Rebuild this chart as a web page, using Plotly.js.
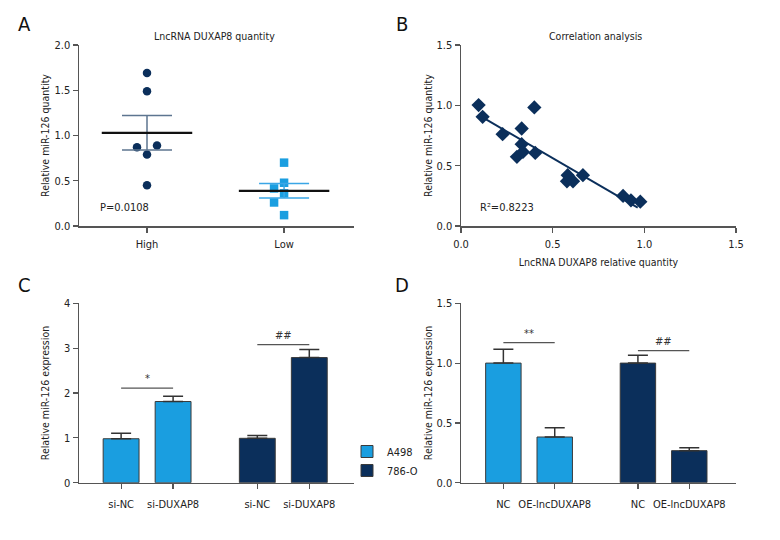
<!DOCTYPE html>
<html>
<head>
<meta charset="utf-8">
<script src="https://cdn.plot.ly/plotly-3.0.1.min.js"></script>
<style>
html,body{margin:0;padding:0;background:#fff;}
#chart{width:780px;height:540px;}
</style>
</head>
<body>
<div id="chart"></div>
<script>
// ---------- DATA ----------
// Panel A
const groupsA = ["High", "Low"];
const highValues = [1.69, 1.49, 0.79, 0.87, 0.89, 0.45];
const lowValues = [0.70, 0.36, 0.415, 0.478, 0.26, 0.12];
const pValueText = "P=0.0108";

// Panel B
const lncX = [0.096, 0.118, 0.227, 0.331, 0.400, 0.331, 0.305, 0.338, 0.405, 0.582, 0.578, 0.611, 0.665, 0.884, 0.927, 0.978];
const mirY = [1.002, 0.905, 0.761, 0.808, 0.983, 0.678, 0.573, 0.614, 0.606, 0.421, 0.371, 0.371, 0.421, 0.249, 0.213, 0.202];
const fitX = [0.118, 0.964];
const fitY = [0.900, 0.152];
const r2Text = "R²=0.8223";

// Panel C
const labelsC = ["si-NC", "si-DUXAP8"];
const cA498 = [0.98, 1.81];
const cA498Err = [1.10, 1.93];
const c786 = [0.99, 2.79];
const c786Err = [1.05, 2.97];
const sigC = ["*", "##"];
const sigCY = [2.11, 3.08];

// Panel D
const labelsD = ["NC", "OE-lncDUXAP8"];
const dA498 = [1.00, 0.382];
const dA498Err = [1.115, 0.46];
const d786 = [1.00, 0.268];
const d786Err = [1.065, 0.293];
const sigD = ["**", "##"];
const sigDY = [1.171, 1.104];

const seriesNames = ["A498", "786-O"];

// ---------- STYLE ----------
const FONT = '"DejaVu Sans Condensed","Liberation Sans Narrow",Arial,sans-serif';
const LIGHT = "#1a9ee0";
const NAVY = "#0b2f5b";
const AXC = "#555555";
const W = 780, H = 540;
const px = v => v / W;
const py = v => 1 - v / H;
const TICK = 11, TITLE = 10.5;

// ---------- HELPERS ----------
function mean(a){ return a.reduce((s,v)=>s+v,0)/a.length; }
function sem(a){
  const m = mean(a);
  const sd = Math.sqrt(a.reduce((s,v)=>s+(v-m)*(v-m),0)/(a.length-1));
  return sd/Math.sqrt(a.length);
}
// deterministic beeswarm offsets (in category units)
function swarm(vals, pxPerUnitY, pxPerUnitX, stepPx, diamPx){
  const placed = [];
  const cands = [0,-1,1,-2,2,-3,3];
  return vals.map(v=>{
    for (const c of cands){
      const xo = c*stepPx;
      const ok = placed.every(p => Math.hypot(p.x - xo, (p.y - v)*pxPerUnitY) >= diamPx);
      if (ok){ placed.push({x:xo,y:v}); return xo/pxPerUnitX; }
    }
    return 0;
  });
}

const traces = [];
const shapes = [];
const annotations = [];

// ---------- PANEL A ----------
const catPx = 137; // px per category unit
const yPxA = 181/2;
[highValues, lowValues].forEach((vals, gi)=>{
  const offs = swarm(vals, yPxA, catPx, 10, 10);
  traces.push({
    type:"scatter", mode:"markers", xaxis:"x", yaxis:"y",
    x: vals.map((v,i)=>gi+offs[i]), y: vals,
    marker: gi===0 ? {symbol:"circle", size:8.5, color:NAVY}
                   : {symbol:"square", size:8.5, color:LIGHT},
    showlegend:false, hoverinfo:"y"
  });
  const m = mean(vals), s = sem(vals);
  traces.push({
    type:"scatter", mode:"lines", xaxis:"x", yaxis:"y",
    x:[gi,gi], y:[m,m],
    error_y:{type:"data", array:[s], visible:true, color: gi===0 ? "#5d7590" : "#3aa6e6", thickness:1.5, width:25},
    line:{width:0}, showlegend:false, hoverinfo:"skip"
  });
  traces.push({
    type:"scatter", mode:"lines", xaxis:"x", yaxis:"y",
    x:[gi-0.33, gi+0.33], y:[m,m],
    line:{color:"#111", width:2.2}, showlegend:false, hoverinfo:"skip"
  });
});
annotations.push({xref:"x", yref:"y", x:-0.36, y:0.2, text:pValueText, showarrow:false, xanchor:"left", font:{family:FONT, size:TICK, color:"#222"}});

// ---------- PANEL B ----------
traces.push({
  type:"scatter", mode:"markers", xaxis:"x2", yaxis:"y2",
  x: lncX, y: mirY,
  marker:{symbol:"diamond", size:11, color:NAVY},
  showlegend:false
});
traces.push({
  type:"scatter", mode:"lines", xaxis:"x2", yaxis:"y2",
  x: fitX, y: fitY, line:{color:NAVY, width:2}, showlegend:false, hoverinfo:"skip"
});
annotations.push({xref:"x2", yref:"y2", x:0.09, y:0.15, text:r2Text, showarrow:false, xanchor:"left", font:{family:FONT, size:TICK, color:"#222"}});

// ---------- BAR PANELS ----------
const GROUP_GAP = 2.62;
function barPanel(xa, ya, lightVals, lightErr, navyVals, navyErr, sigs, sigYs, showLegend){
  const sets = [[lightVals, lightErr, LIGHT], [navyVals, navyErr, NAVY]];
  sets.forEach((s, g)=>{
    const xs = s[0].map((v,i)=> g*GROUP_GAP + i);
    traces.push({
      type:"bar", xaxis:xa, yaxis:ya, name: seriesNames[g],
      x: xs, y: s[0], width:0.69,
      marker:{color:s[2], line:{color:"#3a3a3a", width:1}},
      error_y:{type:"data", symmetric:false, array:s[1].map((e,i)=>e-s[0][i]), arrayminus:s[0].map(()=>0), color:"#333", thickness:1.5, width:10},
      showlegend: showLegend
    });
    shapes.push({type:"line", xref:xa, yref:ya, x0:xs[0], x1:xs[1], y0:sigYs[g], y1:sigYs[g], line:{color:"#555", width:1.2}});
    annotations.push({xref:xa, yref:ya, x:(xs[0]+xs[1])/2, y:sigYs[g], text:sigs[g], showarrow:false, yanchor:"bottom", yshift:1, font:{family:FONT, size:TICK, color:"#333"}});
  });
}
barPanel("x3","y3", cA498, cA498Err, c786, c786Err, sigC, sigCY, true);
barPanel("x4","y4", dA498, dA498Err, d786, d786Err, sigD, sigDY, false);

const barTicks = [0,1,GROUP_GAP,GROUP_GAP+1];

// ---------- AXES ----------
const tickFont = {family:FONT, size:TICK, color:"#222"};
function yax(domain, range, dtick, fmt, title, anchor, standoff){
  return {domain, range, dtick, tickformat:fmt, anchor, showline:true, linecolor:AXC, linewidth:1.5,
    ticks:"outside", ticklen:5, tickcolor:AXC, tickwidth:1.2, showgrid:false, zeroline:false,
    tickfont:tickFont, title:{text:title, font:{family:FONT, size:TITLE, color:"#222"}, standoff:standoff}, fixedrange:true};
}
function xax(domain, range, anchor, extra){
  return Object.assign({domain, range, anchor, showline:true, linecolor:AXC, linewidth:1.5,
    ticks:"outside", ticklen:5, tickcolor:AXC, tickwidth:1.2, showgrid:false, zeroline:false,
    tickfont:tickFont, ticklabelstandoff:2, fixedrange:true}, extra);
}

const dxA = [px(79), px(354)];
const dxB = [px(461), px(736)];
const dyTop = [py(226), py(45)];
const dyBot = [py(482.7), py(303.3)];

const layout = {
  width:W, height:H,
  margin:{l:0,r:0,t:0,b:0},
  paper_bgcolor:"#fff", plot_bgcolor:"#fff",
  font:{family:FONT, color:"#222"},
  barmode:"overlay",
  showlegend:true,
  legend:{x:px(347), y:py(437), xanchor:"left", yanchor:"top", font:{family:FONT, size:TICK, color:"#222"}, tracegroupgap:0, itemwidth:30, bgcolor:"rgba(0,0,0,0)"},
  xaxis: xax(dxA, [-0.496, 1.51], "y", {tickmode:"array", tickvals:[0,1], ticktext:groupsA}),
  yaxis: yax(dyTop, [0,2], 0.5, ".1f", "Relative miR-126 quantity", "x", 3),
  xaxis2: xax(dxB, [0,1.5], "y2", {dtick:0.5, tickformat:".1f", title:{text:"LncRNA DUXAP8 relative quantity", font:{family:FONT, size:TITLE, color:"#222"}, standoff:9}}),
  yaxis2: yax(dyTop, [0,1.5], 0.5, ".1f", "Relative miR-126 quantity", "x2", 2),
  xaxis3: xax(dxA, [-0.81, 4.48], "y3", {tickmode:"array", tickvals:barTicks, ticktext:labelsC.concat(labelsC), ticklabelstandoff:6}),
  yaxis3: yax(dyBot, [0,4], 1, "d", "Relative miR-126 expression", "x3", 12),
  xaxis4: xax(dxB, [-0.825, 4.53], "y4", {tickmode:"array", tickvals:barTicks, ticktext:labelsD.concat(labelsD), ticklabelstandoff:6}),
  yaxis4: yax(dyBot, [0,1.5], 0.5, ".1f", "Relative miR-126 expression", "x4", 2),
  shapes: shapes,
  annotations: annotations.concat([
    {xref:"paper", yref:"paper", x:px(214), y:py(36), xanchor:"center", yanchor:"middle", text:"LncRNA DUXAP8 quantity", showarrow:false, font:{family:FONT, size:TITLE, color:"#222"}},
    {xref:"paper", yref:"paper", x:px(595), y:py(36), xanchor:"center", yanchor:"middle", text:"Correlation analysis", showarrow:false, font:{family:FONT, size:TITLE, color:"#222"}},
    {xref:"paper", yref:"paper", x:px(25), y:py(24), xanchor:"center", yanchor:"middle", text:"A", showarrow:false, font:{family:FONT, size:20, color:"#111"}},
    {xref:"paper", yref:"paper", x:px(402), y:py(24), xanchor:"center", yanchor:"middle", text:"B", showarrow:false, font:{family:FONT, size:20, color:"#111"}},
    {xref:"paper", yref:"paper", x:px(25), y:py(285), xanchor:"center", yanchor:"middle", text:"C", showarrow:false, font:{family:FONT, size:20, color:"#111"}},
    {xref:"paper", yref:"paper", x:px(402), y:py(285), xanchor:"center", yanchor:"middle", text:"D", showarrow:false, font:{family:FONT, size:20, color:"#111"}}
  ])
};

Plotly.newPlot("chart", traces, layout, {staticPlot:true, displayModeBar:false});
</script>
</body>
</html>
